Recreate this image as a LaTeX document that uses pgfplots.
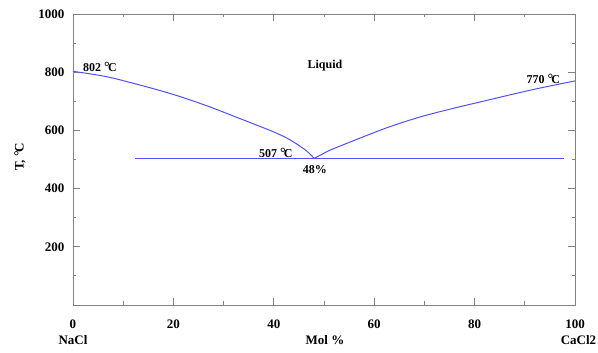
\documentclass[border=0pt]{standalone}
\usepackage{fontspec}
\setmainfont{Liberation Serif}
\usepackage{pgfplots}
\pgfplotsset{compat=1.18}
\definecolor{liq}{RGB}{80,80,255}
\definecolor{axgray}{RGB}{130,130,130}
\newcommand{\degC}{{\fontsize{14}{14}\selectfont °}\kern-0.15em C}
\begin{document}
\begin{tikzpicture}
\begin{axis}[
  at={(73pt,48pt)}, anchor=south west,
  scale only axis, width=502pt, height=291pt,
  xmin=0, xmax=100, ymin=0, ymax=1000,
  xtick={0,20,...,100}, ytick={0,200,...,1000},
  yticklabels={,200,400,600,800,1000},
  minor x tick num=1, minor y tick num=1,
  tick align=inside,
  major tick length=7pt, minor tick length=3.5pt,
  axis line style={axgray, line width=0.9pt},
  every tick/.style={axgray, line width=0.8pt},
  /pgf/number format/assume math mode=true,
  ticklabel style={font=\fontsize{13}{13}\selectfont\bfseries},
  xticklabel style={yshift=-11pt},
  yticklabel style={xshift=-5pt},
  clip=false,
]
\addplot[liq, line width=1pt, smooth, tension=0.5] coordinates {
  (0,803) (6.6,785) (13.3,756) (19.9,724) (26.6,685) (33.2,641) (39.8,596) (43.2,568) (46.5,530) (48,504)
};
\addplot[liq, line width=1pt, smooth, tension=0.5] coordinates {
  (48,504) (49.2,514) (51.2,532) (55.8,564) (62.5,609) (69.1,646) (75.8,676) (82.4,703) (89,730) (94,749) (100,770)
};
\addplot[liq, line width=1pt] coordinates {(12.3,503) (97.8,503)};
\begin{scope}[every node/.style={font=\fontsize{12}{12}\selectfont\bfseries, inner sep=0pt}]
\node[anchor=west] at (axis cs:2,818) {802 \degC};
\node at (axis cs:40.4,522) {507 \degC};
\node at (axis cs:48.2,467) {48\%};
\node at (axis cs:93.7,777) {770 \degC};
\node at (axis cs:50.2,821) {Liquid};
\end{scope}
\begin{scope}[every node/.style={font=\fontsize{13}{13}\selectfont\bfseries, inner sep=0pt}]
\node at ([yshift=-35pt]axis cs:0,0) {NaCl};
\node at ([yshift=-35pt]axis cs:50.2,0) {Mol \%};
\node at ([yshift=-35pt]axis cs:100.7,0) {CaCl2};
\node[rotate=90] at ([xshift=-53pt]axis cs:0,508) {T, \degC};
\end{scope}
\end{axis}
\pgfresetboundingbox
\useasboundingbox (0,0) rectangle (598pt,353pt);
\end{tikzpicture}
\end{document}
